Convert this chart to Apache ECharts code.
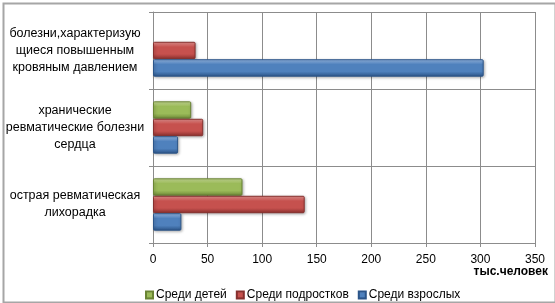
<!DOCTYPE html>
<html>
<head>
<meta charset="utf-8">
<script src="https://cdn.jsdelivr.net/npm/echarts@6/dist/echarts.min.js"></script>
<style>
  html, body { margin: 0; padding: 0; background: #fff; }
  #chart { width: 555px; height: 303px; }
</style>
</head>
<body>
<div id="chart"></div>
<script>
// categories bottom -> top (category axis grows upward)
const categories = [
    "острая ревматическая\nлихорадка",
    "хранические\nревматические болезни\nсердца",
    "болезни,характеризую\nщиеся повышенным\nкровяным давлением"
];
const seriesNames = ["Среди детей", "Среди подростков", "Среди взрослых"];
const children = [82, 35, null];
const teens = [139, 46, 39];
const adults = [26, 23, 303];
const valueTicks = [0, 350, 50]; // min, max, step
const unitLabel = "тыс.человек";

const font = "'Liberation Sans', Arial, sans-serif";

function bevel(light, mid, dark) {
    return new echarts.graphic.LinearGradient(0, 0, 0, 1, [
        {offset: 0, color: light},
        {offset: 0.3, color: mid},
        {offset: 0.7, color: mid},
        {offset: 1, color: dark}
    ]);
}

const styles = [
    {fill: bevel("#cfe39a", "#9bbb59", "#6f8a38"), border: "#6a8434", legend: "#9bbb59"},
    {fill: bevel("#ee9896", "#c6514e", "#8a302e"), border: "#86302e", legend: "#c0504d"},
    {fill: bevel("#9cc0ee", "#4f81bd", "#2c5589"), border: "#2c5589", legend: "#4f81bd"}
];
const values = [children, teens, adults];

const chart = echarts.init(document.getElementById("chart"));

const option = {
    animation: false,
    textStyle: {fontFamily: font},
    grid: {left: 153, right: 20, top: 12, bottom: 60, containLabel: false},
    legend: {
        left: 140,
        top: 284,
        itemWidth: 7,
        itemHeight: 7,
        itemGap: 9,
        icon: "rect",
        textStyle: {fontSize: 12, color: "#000", fontFamily: font, padding: [0, 0, 0, -2]},
        data: seriesNames
    },
    xAxis: {
        type: "value",
        min: valueTicks[0],
        max: valueTicks[1],
        interval: valueTicks[2],
        axisLine: {show: true, lineStyle: {color: "#8c8c8c", width: 1}},
        axisTick: {show: true, length: 4, lineStyle: {color: "#8c8c8c"}},
        axisLabel: {color: "#000", fontSize: 12, margin: 11},
        splitLine: {show: true, lineStyle: {color: "#8c8c8c", width: 1}}
    },
    yAxis: {
        type: "category",
        data: categories,
        axisLine: {show: true, lineStyle: {color: "#8c8c8c", width: 1}},
        axisTick: {show: true, length: 4, lineStyle: {color: "#8c8c8c"}},
        splitLine: {show: true, lineStyle: {color: "#8c8c8c", width: 1}},
        axisLabel: {
            color: "#000",
            fontSize: 12.5,
            lineHeight: 17,
            align: "center",
            margin: 78
        }
    },
    graphic: [
        {
            type: "rect",
            left: 1, top: 1,
            shape: {width: 552, height: 299},
            style: {fill: "none", stroke: "#a6a6a6", lineWidth: 2},
            silent: true
        },
        {
            type: "text",
            right: 7, top: 266,
            style: {text: unitLabel, font: "bold 12px " + font, fill: "#000"}
        }
    ],
    series: seriesNames.map((name, i) => ({
        name: name,
        type: "bar",
        data: values[i],
        barGap: "0%",
        barCategoryGap: "32%",
        itemStyle: {
            color: styles[i].fill,
            borderColor: styles[i].border,
            borderWidth: 1,
            borderRadius: 1,
            shadowColor: "rgba(0,0,0,0.3)",
            shadowBlur: 3,
            shadowOffsetX: 1,
            shadowOffsetY: 1
        }
    })),
    color: styles.map(s => s.legend)
};

chart.setOption(option);
</script>
</body>
</html>
